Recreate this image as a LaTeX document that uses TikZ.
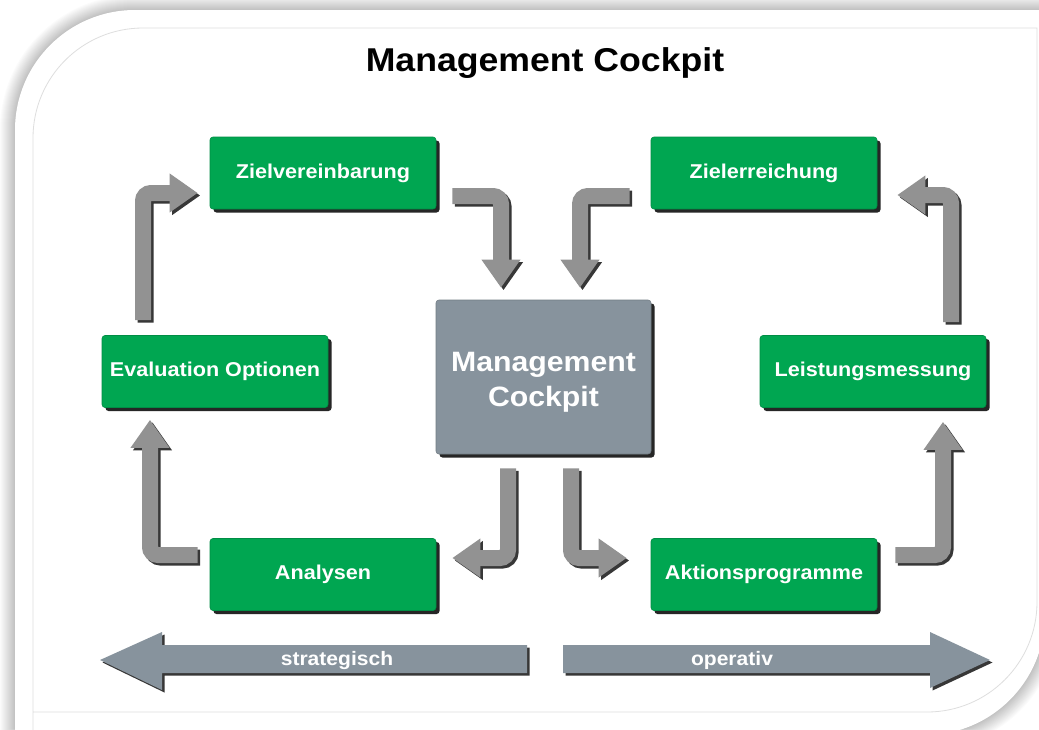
\documentclass[tikz,border=0pt]{standalone}
\usepackage{fontspec}
\setmainfont{Liberation Sans}
\newfontfamily\hf[FakeStretch=1.08]{Liberation Sans}
\usetikzlibrary{arrows.meta,shadows,calc}
\definecolor{boxgreen}{RGB}{0,166,81}
\definecolor{slate}{RGB}{135,147,157}
\definecolor{arrgray}{RGB}{146,146,146}
\definecolor{arrshade}{RGB}{55,55,55}
\newcommand\bentarrow[1]{%
  \draw[garrshadow,transform canvas={shift={(2.5,2.5)}}] #1;
  \draw[garr] #1;}
\tikzset{
  gbox/.style={fill=boxgreen, draw=boxgreen!85!black, line width=0.6pt,
    rounded corners=3pt, minimum width=226pt, minimum height=72pt, inner sep=0pt,
    text=white, font=\hf\bfseries\fontsize{20}{24}\selectfont,
    drop shadow={shadow xshift=3.5pt, shadow yshift=-3.5pt, fill=black!85, opacity=1}},
  cbox/.style={fill=slate, draw=slate!85!black, line width=0.6pt,
    rounded corners=3pt, minimum width=215pt, minimum height=154pt, inner sep=0pt,
    drop shadow={shadow xshift=3.5pt, shadow yshift=-3.5pt, fill=black!85, opacity=1}},
  ctext/.style={text=white, align=center, inner sep=0pt,
    font=\hf\bfseries\fontsize{28}{35}\selectfont},
  garr/.style={draw=arrgray, line width=16pt, rounded corners=8pt,
    -{Triangle[length=28pt,width=37pt]}},
  garrshadow/.style={draw=arrshade, line width=16pt, rounded corners=8pt,
    -{Triangle[length=28pt,width=37pt]}},
  bigarr/.style={fill=slate},
  bigarrshadow/.style={fill=arrshade},
  arrlabel/.style={text=white, font=\hf\bfseries\fontsize{19.5}{23}\selectfont, inner sep=0pt}
}
\begin{document}
\begin{tikzpicture}[x=1pt,y=-1pt]
\useasboundingbox (0,0) rectangle (1039,729);
\fill[white] (0,0) rectangle (1039,729);
% card shadow
\foreach \i in {1,...,15}{
  \fill[black,opacity=0.017] (15-\i,760) -- (15-\i,130) arc[start angle=180,end angle=270,radius={120+\i}]
     -- (1070,10-\i) -- (1070,615) -- (1045+\i,615) arc[start angle=0,end angle=90,radius={120+\i}]
     -- (-30,735+\i) -- (-30,760) -- cycle;
}
\fill[white] (15,760) -- (15,130) arc[start angle=180,end angle=270,radius=120]
     -- (1070,10) -- (1070,615) -- (1045,615) arc[start angle=0,end angle=90,radius=120]
     -- (15,735) -- cycle;
\draw[black!13,line width=0.8pt] (33,760) -- (33,138) arc[start angle=180,end angle=270,radius=110]
     -- (1037,28) -- (1037,602) arc[start angle=0,end angle=90,radius=110] -- (33,712);

% title
\node[font=\hf\bfseries\fontsize{33}{38}\selectfont, text=black] (title) at (545,63) {Management Cockpit};

% boxes
\node[gbox] (zv) at (323,173) {Zielvereinbarung};
\node[gbox] (ze) at (764,173) {Zielerreichung};
\node[gbox] (ev) at (215,371.5) {Evaluation Optionen};
\node[gbox] (lm) at (873,371.5) {Leistungsmessung};
\node[gbox] (an) at (323,574.5) {Analysen};
\node[gbox] (ap) at (764,574.5) {Aktionsprogramme};
\node[cbox] (mc) at (543.5,377) {};
\node[ctext] (mctext) at ([shift={(0,5.5)}]mc.center) {Management\\Cockpit};

% bent arrows
\bentarrow{([shift={(-72,-15)}]ev.north) |- ([shift={(-12,20)}]zv.west)}
\bentarrow{([shift={(16,23)}]zv.east) -| ([shift={(-42.5,-12)}]mc.north)}
\bentarrow{([shift={(-21,23)}]ze.west) -| ([shift={(36.5,-12)}]mc.north)}
\bentarrow{([shift={(78,-13)}]lm.north) |- ([shift={(20,22)}]ze.east)}
\bentarrow{([shift={(18,-19.5)}]ap.east) -| ([shift={(70,14)}]lm.south)}
\bentarrow{([shift={(-12,-19.5)}]an.west) -| ([shift={(-65,12)}]ev.south)}
\bentarrow{([shift={(-35.5,14)}]mc.south) |- ([shift={(16,-16.5)}]an.east)}
\bentarrow{([shift={(27.5,14)}]mc.south) |- ([shift={(-24,-16.5)}]ap.west)}

% bottom arrows
\fill[bigarrshadow,shift={(2.5,2.5)}] (527,645) -- (162,645) -- (162,632) -- (100,660) -- (162,690) -- (162,673) -- (527,673) -- cycle;
\fill[bigarr] (527,645) -- (162,645) -- (162,632) -- (100,660) -- (162,690) -- (162,673) -- (527,673) -- cycle;
\fill[bigarrshadow,shift={(2.5,2.5)}] (563,645) -- (930,645) -- (930,632) -- (990,660) -- (930,688) -- (930,673) -- (563,673) -- cycle;
\fill[bigarr] (563,645) -- (930,645) -- (930,632) -- (990,660) -- (930,688) -- (930,673) -- (563,673) -- cycle;
\node[arrlabel] (strat) at (337,660) {strategisch};
\node[arrlabel] (oper) at (732,660) {operativ};
\end{tikzpicture}
\end{document}
